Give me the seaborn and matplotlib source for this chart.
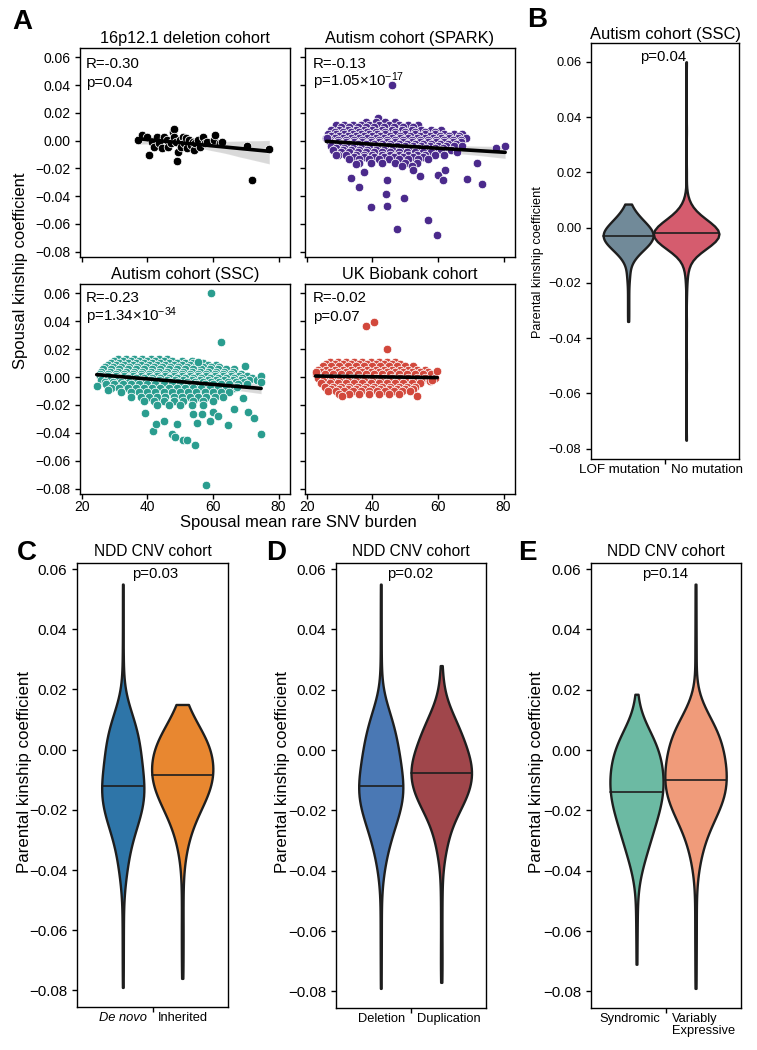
import numpy as np
import pandas as pd
import matplotlib
matplotlib.use("Agg")
import matplotlib.pyplot as plt
import seaborn as sns

# ======================= DATA =======================
# Panel A: spousal mean rare SNV burden (x) vs spousal kinship coefficient (y)
p16_x = [37.1, 38.3, 39.8, 40.6, 41.4, 42.1, 42.9, 43.7, 44.4, 45.1, 45.9, 46.4, 47.2, 47.8,
         48.0, 48.2, 48.8, 49.0, 49.5, 50.0, 50.4, 50.8, 51.2, 51.8, 52.2, 52.8, 53.2, 53.9,
         54.1, 54.6, 55.6, 56.1, 57.1, 57.6, 58.3, 60.2, 60.7, 62.2, 62.7, 70.5, 72.0, 77.2]
p16_y = [0.0005, 0.0041, 0.0029, -0.0103, -0.0007, -0.0043, 0.0024, -0.0019, -0.0055, 0.0029,
         0.0005, -0.0043, -0.0019, 0.0065, 0.0082, 0.0029, -0.0007, -0.0146, -0.0079, 0.0005,
         -0.0043, 0.0029, -0.0019, 0.0017, -0.0055, 0.0005, -0.0031, -0.0007, -0.0067, -0.0019,
         0.0005, -0.0043, 0.0029, -0.0019, -0.0007, 0.0005, 0.0041, -0.0019, -0.0007, -0.0038,
         -0.0282, -0.0062]

# dense clouds given as (kinship value, [burden values]) rows
spark_rows = [
    (0.016, [41.8]),
    (0.0135, [38, 41, 44, 47]),
    (0.011, [29, 31.5, 34, 36.5, 39, 42, 45, 48, 51, 54]),
    (0.0095, [30.5, 33, 35.5, 38, 40.5, 43.5, 46.5, 49.5, 52.5]),
    (0.008, [27.5, 30, 32.5, 35, 37.5, 40, 43, 46, 49, 52, 55, 58, 61]),
    (0.0065, [28.5, 31, 33.5, 36, 38.5, 41, 44, 47, 50, 53, 56, 59]),
    (0.005, [26.5, 29, 31.5, 34, 36.5, 39, 41.5, 44, 47, 50, 53, 56, 59, 62, 65, 67.5]),
    (0.0035, [27.5, 30, 32.5, 35, 37.5, 40, 42.5, 45.5, 48.5, 51.5, 54.5, 57.5, 60.5, 63.5, 66.5]),
    (0.002, [26, 28.5, 31, 33.5, 36, 38.5, 41, 43.5, 46, 48.5, 51, 53.5, 56, 58.5, 61, 63.5, 66, 68.5]),
    (0.0005, [27, 29.5, 32, 34.5, 37, 39.5, 42, 44.5, 47, 49.5, 52, 54.5, 57, 59.5, 62, 64.5, 67]),
    (-0.001, [27, 29.5, 32, 34.5, 37, 39.5, 42, 44.5, 47, 49.5, 52, 54.5, 57, 59.5, 62, 64.5, 67]),
    (-0.0025, [28, 30.5, 33, 35.5, 38, 40.5, 43, 45.5, 48, 50.5, 53, 55.5, 58, 60.5, 63, 65.5]),
    (-0.004, [27.5, 30, 32.5, 35, 37.5, 40, 42.5, 45, 47.5, 50, 52.5, 55, 57.5, 60, 62.5, 65, 67.5]),
    (-0.0055, [29, 31.5, 34, 36.5, 39, 41.5, 44, 46.5, 49, 51.5, 54, 56.5, 59, 61.5]),
    (-0.007, [28, 31, 33.5, 36, 38.5, 41, 43.5, 46, 48.5, 51, 53.5, 56, 58.5, 61, 64]),
    (-0.0085, [30.5, 33, 35.5, 38, 40.5, 43, 45.5, 48, 50.5, 53, 55.5, 58]),
    (-0.010, [29.5, 32, 35, 37.5, 40, 43, 45.5, 48, 51, 53.5, 56, 59, 62]),
    (-0.0115, [34.5, 37.5, 40.5, 43.5, 46.5, 49.5, 52.5, 55.5]),
    (-0.013, [33, 36, 39, 42, 45, 48, 51, 54, 57]),
    (-0.016, [36, 39.5, 43, 47, 50, 53.5]),
    (-0.0185, [49, 52]),
]
spark_out_x = [46.1, 33.4, 36.0, 37.5, 35.0, 39.5, 44.1, 44.6, 44.4, 49.7, 47.5, 57.1, 59.6,
               52.5, 54.6, 60.1, 62.2, 61.7, 68.8, 71.8, 73.4, 65.7, 77.7, 80.5, 29.0, 26.1]
spark_out_y = [0.040, -0.0270, -0.0335, -0.0225, -0.0172, -0.0478, -0.0383, -0.0287, -0.0474,
               -0.0414, -0.0637, -0.0575, -0.0677, -0.0210, -0.0258, -0.0246, -0.0210, -0.0282,
               -0.0275, -0.0163, -0.0313, -0.0079, -0.0055, -0.0036, -0.0103, 0.0017]

ssc_rows = [
    (0.013, [31, 33.5, 36, 38.5, 41, 43.5, 46]),
    (0.0115, [30, 32.5, 35, 37.5, 40, 42.5, 45, 47.5, 50.5, 53.5]),
    (0.010, [29, 31.5, 34, 36.5, 39, 41.5, 44, 46.5, 49, 51.5, 54, 57]),
    (0.0085, [28, 30.5, 33, 35.5, 38, 40.5, 43, 45.5, 48, 50.5, 53, 55.5, 58.5, 61]),
    (0.007, [27, 29.5, 32, 34.5, 37, 39.5, 42, 44.5, 47, 49.5, 52, 54.5, 57, 59.5, 62]),
    (0.0055, [26.5, 29, 31.5, 34, 36.5, 39, 41.5, 44, 46.5, 49, 51.5, 54, 56.5, 59, 61.5, 64, 66.5]),
    (0.004, [26, 28.5, 31, 33.5, 36, 38.5, 41, 43.5, 46, 48.5, 51, 53.5, 56, 58.5, 61, 63.5, 66]),
    (0.0025, [25.5, 28, 30.5, 33, 35.5, 38, 40.5, 43, 45.5, 48, 50.5, 53, 55.5, 58, 60.5, 63, 65.5, 68.5]),
    (0.001, [25.5, 28, 30.5, 33, 35.5, 38, 40.5, 43, 45.5, 48, 50.5, 53, 55.5, 58, 60.5, 63, 65.5, 68, 70.5]),
    (-0.0005, [26.5, 29, 31.5, 34, 36.5, 39, 41.5, 44, 46.5, 49, 51.5, 54, 56.5, 59, 61.5, 64, 66.5, 69, 72]),
    (-0.002, [26, 28.5, 31, 33.5, 36, 38.5, 41, 43.5, 46, 48.5, 51, 53.5, 56, 58.5, 61, 63.5, 66, 68.5, 71, 73.5]),
    (-0.0035, [27, 29.5, 32, 34.5, 37, 39.5, 42, 44.5, 47, 49.5, 52, 54.5, 57, 59.5, 62, 64.5, 67, 69.5]),
    (-0.005, [27.5, 30, 32.5, 35, 37.5, 40, 42.5, 45, 47.5, 50, 52.5, 55, 57.5, 60, 62.5, 65, 67.5, 70.5]),
    (-0.008, [29, 31.5, 34, 36.5, 39, 41.5, 44, 46.5, 49, 51.5, 54, 56.5, 59, 61.5, 64, 66.5]),
    (-0.011, [32, 35, 37.5, 40, 42.5, 45, 47.5, 50, 52.5, 55, 57.5, 60, 62.5, 65]),
    (-0.014, [35, 38, 40.5, 43, 45.5, 48, 50.5, 53, 55.5, 58, 60.5, 63]),
    (-0.017, [39, 42, 45, 48, 51, 54, 57, 60]),
    (-0.020, [43, 46.5, 50, 53.5, 57]),
]
ssc_out_x = [59.3, 62.4, 24.6, 28.1, 39.3, 41.8, 42.8, 45.2, 47.5, 48.5, 49.0, 50.8, 52.0, 54.6,
             55.1, 53.9, 56.6, 59.2, 60.0, 61.7, 64.6, 66.3, 70.6, 72.4, 74.7, 57.9, 69.7, 55.6,
             74.7, 74.7, 67.3, 69.3]
ssc_out_y = [0.060, 0.0250, -0.0062, -0.0096, -0.0259, -0.0388, -0.0335, -0.0317, -0.0412,
             -0.0431, -0.0340, -0.0450, -0.0450, -0.0484, -0.0331, -0.0266, -0.0266, -0.0314,
             -0.0252, -0.0276, -0.0347, -0.0228, -0.0247, -0.0293, -0.0412, -0.0772, 0.0077,
             0.0111, 0.0005, -0.0036, -0.0072, -0.0151]

ukb_rows = [
    (0.011, [27, 29.5, 32, 34.5, 37, 39.5, 42, 44.5, 47]),
    (0.0095, [26, 28.5, 31, 33.5, 36, 38.5, 41, 43.5, 46, 48.5]),
    (0.008, [25, 27.5, 30, 32.5, 35, 37.5, 40, 42.5, 45, 47.5, 50, 52.5]),
    (0.005, [23.5, 26, 28.5, 31, 33.5, 36, 38.5, 41, 43.5, 46, 48.5, 51, 53.5, 56]),
    (0.0035, [24.5, 27, 29.5, 32, 34.5, 37, 39.5, 42, 44.5, 47, 49.5, 52, 54.5, 57]),
    (0.002, [23, 25.5, 28, 30.5, 33, 35.5, 38, 40.5, 43, 45.5, 48, 50.5, 53, 55.5, 58]),
    (-0.001, [23.5, 26, 28.5, 31, 33.5, 36, 38.5, 41, 43.5, 46, 48.5, 51, 53.5, 56, 59]),
    (-0.0025, [25, 27.5, 30, 32.5, 35, 37.5, 40, 42.5, 45, 47.5, 50, 52.5, 55, 57.5]),
    (-0.004, [24.5, 27, 29.5, 32, 34.5, 37, 39.5, 42, 44.5, 47, 49.5, 52, 54.5]),
    (-0.007, [25.5, 28, 30.5, 33, 35.5, 38, 40.5, 43, 45.5, 48, 50.5, 53]),
    (-0.0085, [27.5, 30, 32.5, 35, 37.5, 40, 42.5, 45, 47.5, 50, 52.5]),
    (-0.010, [26.5, 29, 31.5, 34, 36.5, 39, 41.5, 44, 46.5, 49, 51.5]),
    (-0.012, [30, 33, 36, 39, 42, 45, 48]),
]
ukb_out_x = [38.1, 40.5, 44.6, 59.8, 58.3, 53.7, 30.7, 22.7]
ukb_out_y = [0.0367, 0.0398, 0.0204, 0.0043, -0.0019, -0.0139, -0.0139, 0.0036]

a_titles = ["16p12.1 deletion cohort", "Autism cohort (SPARK)", "Autism cohort (SSC)", "UK Biobank cohort"]
a_R = ["R=-0.30", "R=-0.13", "R=-0.23", "R=-0.02"]
a_p = ["p=0.04", "p=1.05×10$^{-17}$", "p=1.34×10$^{-34}$", "p=0.07"]
a_colors = ["#000000", "#4b2a8c", "#2a9d8f", "#d2483c"]

# Panel B: parental kinship, binned values and counts
b_groups = ["LOF mutation", "No mutation"]
lof_vals = [-0.034, -0.030, -0.026, -0.022, -0.018, -0.015, -0.012, -0.010, -0.008, -0.006,
            -0.004, -0.002, 0.000, 0.002, 0.004, 0.006, 0.0085]
lof_counts = [1, 1, 1, 1, 2, 2, 4, 7, 12, 18, 21, 22, 18, 13, 9, 5, 3]
nomut_vals = [-0.077, -0.050, -0.035, -0.025, -0.020, -0.016, -0.013, -0.010, -0.008, -0.006,
              -0.004, -0.002, 0.000, 0.002, 0.004, 0.006, 0.008, 0.010, 0.013, 0.020, 0.035, 0.060]
nomut_counts = [1, 1, 1, 1, 2, 3, 6, 12, 22, 35, 45, 48, 42, 30, 18, 10, 5, 3, 1, 1, 1, 1]
b_colors = ["#718a99", "#d55c6e"]

# Panel C
c_groups = ["De novo", "Inherited"]
denovo_vals = [0.055, 0.045, 0.035, 0.028, 0.022, 0.018, 0.015, 0.012, 0.009, 0.006, 0.003,
               0.000, -0.003, -0.006, -0.009, -0.012, -0.015, -0.018, -0.021, -0.024, -0.027,
               -0.030, -0.033, -0.036, -0.039, -0.042, -0.045, -0.050, -0.055, -0.060, -0.066,
               -0.072, -0.079]
denovo_counts = [1, 1, 1, 1, 1, 2, 4, 8, 12, 13, 15, 16, 16, 17, 18, 20, 20, 19, 17, 14, 11, 8,
                 6, 5, 4, 3, 2, 1, 1, 1, 1, 1, 1]
inh_vals = [0.015, 0.0125, 0.0095, 0.0065, 0.0035, 0.0005, -0.0025, -0.0055, -0.0085, -0.0115,
            -0.0145, -0.0175, -0.0205, -0.0235, -0.0265, -0.0295, -0.0325, -0.0355, -0.0385,
            -0.042, -0.047, -0.053, -0.059, -0.064, -0.070, -0.076]
inh_counts = [3, 5, 8, 12, 16, 18, 19, 20, 20, 19, 17, 14, 11, 8, 6, 4, 3, 2, 1, 1, 1, 1, 1, 1, 1, 1]
c_colors = ["#2e75a8", "#e88730"]

# Panel D
d_groups = ["Deletion", "Duplication"]
del_vals = [0.055, 0.046, 0.038, 0.030, 0.024, 0.018, 0.015, 0.012, 0.009, 0.006, 0.003, 0.000,
            -0.003, -0.006, -0.009, -0.012, -0.015, -0.018, -0.021, -0.024, -0.027, -0.030,
            -0.033, -0.036, -0.039, -0.042, -0.046, -0.052, -0.058, -0.064, -0.071, -0.079]
del_counts = [1, 1, 1, 1, 1, 2, 5, 8, 11, 12, 14, 15, 16, 17, 18, 20, 20, 18, 16, 13, 10, 8, 6,
              4, 3, 2, 1, 1, 1, 1, 1, 1]
dup_vals = [-0.077, -0.071, -0.065, -0.058, -0.051, -0.045, -0.040, -0.036, -0.033, -0.030,
            -0.027, -0.024, -0.021, -0.018, -0.015, -0.012, -0.009, -0.006, -0.003, 0.000,
            0.003, 0.006, 0.009, 0.012, 0.015, 0.018, 0.021, 0.024, 0.028]
dup_counts = [1, 1, 1, 1, 1, 1, 1, 2, 3, 4, 5, 7, 10, 14, 17, 19, 20, 20, 19, 16, 14, 13, 10, 7,
              4, 2, 1, 1, 1]
d_colors = ["#4a78b4", "#a0464b"]

# Panel E
e_groups = ["Syndromic", "Variably\nExpressive"]
syn_vals = [0.0185, 0.016, 0.013, 0.010, 0.007, 0.004, 0.001, -0.002, -0.005, -0.008, -0.011,
            -0.014, -0.017, -0.020, -0.023, -0.026, -0.029, -0.032, -0.035, -0.038, -0.041,
            -0.044, -0.048, -0.052, -0.057, -0.063, -0.071]
syn_counts = [1, 1, 2, 5, 9, 13, 16, 18, 19, 20, 20, 20, 19, 17, 15, 13, 11, 9, 7, 5, 3, 2, 1,
              1, 1, 1, 1]
var_vals = [0.055, 0.045, 0.036, 0.029, 0.020, 0.017, 0.014, 0.011, 0.008, 0.005, 0.002, -0.001,
            -0.004, -0.007, -0.010, -0.013, -0.016, -0.019, -0.022, -0.025, -0.028, -0.031,
            -0.034, -0.037, -0.041, -0.046, -0.052, -0.058, -0.064, -0.071, -0.079]
var_counts = [1, 1, 1, 1, 1, 2, 5, 9, 13, 16, 17, 18, 19, 20, 20, 20, 19, 16, 13, 10, 7, 5, 4, 3,
              2, 1, 1, 1, 1, 1, 1]
e_colors = ["#6cbaa3", "#f09b7a"]

kin_ticks = [-0.08, -0.06, -0.04, -0.02, 0.00, 0.02, 0.04, 0.06]
burden_ticks = [20, 40, 60, 80]

# ======================= STYLE =======================
sns.set_style("ticks")
plt.rcParams.update({
    "font.family": ["Liberation Sans", "DejaVu Sans"],
    "mathtext.fontset": "custom",
    "mathtext.rm": "Liberation Sans",
    "mathtext.it": "Liberation Sans:italic",
    "mathtext.bf": "Liberation Sans:bold",
    "axes.edgecolor": "black",
    "axes.linewidth": 1.0,
    "xtick.color": "black",
    "ytick.color": "black",
    "text.color": "black",
    "axes.labelcolor": "black",
})

W, H = 757, 1050
fig = plt.figure(figsize=(W / 100, H / 100), dpi=100)


def box(l, t, r, b):
    return fig.add_axes([l / W, 1 - b / H, (r - l) / W, (b - t) / H])


def ftext(x, y, s, **kw):
    fig.text(x / W, 1 - y / H, s, **kw)


def rows_xy(rows, ox, oy):
    xs, ys = [], []
    for yv, xl in rows:
        xs += list(xl)
        ys += [yv] * len(xl)
    return np.array(xs + list(ox)), np.array(ys + list(oy))


# ======================= PANEL A =======================
a_data = [
    (np.array(p16_x), np.array(p16_y)),
    rows_xy(spark_rows, spark_out_x, spark_out_y),
    rows_xy(ssc_rows, ssc_out_x, ssc_out_y),
    rows_xy(ukb_rows, ukb_out_x, ukb_out_y),
]
a_boxes = [(80, 48, 290, 257), (305, 48, 515, 257), (80, 284, 290, 494), (305, 284, 515, 494)]
a_text_pos = [(86, 67.5, 86.5), (313, 67.5, 86.5), (86, 301.5, 320.5), (313, 301.5, 320.5)]

for i, ((x, y), bx) in enumerate(zip(a_data, a_boxes)):
    ax = box(*bx)
    sns.scatterplot(x=x, y=y, ax=ax, color=a_colors[i], s=38, edgecolor="white",
                    linewidth=0.55, zorder=2, legend=False)
    sns.regplot(x=x, y=y, ax=ax, scatter=False, color="black", ci=95, n_boot=1000, seed=0,
                truncate=True, line_kws=dict(lw=2.6, zorder=4))
    ax.set_xlim(19.5, 83.5)
    ax.set_ylim(-0.0839, 0.0668)
    ax.set_xticks(burden_ticks)
    ax.set_yticks(kin_ticks)
    ax.set_xlabel("")
    ax.set_ylabel("")
    ax.tick_params(labelsize=10, length=3.5, width=1, direction="out")
    ax.tick_params(axis="x", pad=0.5)
    if i < 2:
        ax.tick_params(labelbottom=False)
    if i % 2 == 1:
        ax.tick_params(labelleft=False)
    ax.set_title(a_titles[i], fontsize=11.7, pad=3.5)
    tx, ty1, ty2 = a_text_pos[i]
    ftext(tx, ty1, a_R[i], fontsize=10.8, va="baseline", ha="left")
    ftext(tx, ty2, a_p[i], fontsize=10.8, va="baseline", ha="left")

ftext(21, 271, "Spousal kinship coefficient", fontsize=12, rotation=90, ha="center", va="center")
ftext(298, 522, "Spousal mean rare SNV burden", fontsize=12, ha="center", va="center")


# ======================= VIOLIN PANELS =======================
def violin_panel(bx, names, vals, cnts, colors, widths, xlim, ylim, tick_fs, lab_fs,
                 left_style="normal"):
    ax = box(*bx)
    for n, v, c, col, w in zip(names, vals, cnts, colors, widths):
        df = pd.DataFrame({"group": n, "value": np.repeat(v, c)})
        sns.violinplot(data=df, x="group", y="value", order=names, color=col,
                       saturation=1, cut=0, inner="quart", width=w,
                       linewidth=1.7, linecolor="#1e1e1e", density_norm="width",
                       ax=ax, inner_kws=dict(linewidth=1.2, color="#1e1e1e"))
    for k, ln in enumerate(ax.lines):
        if k % 3 == 1:
            ln.set_linestyle("-")
        else:
            ln.set_visible(False)
    ax.set_xlim(*xlim)
    ax.set_ylim(*ylim)
    ax.set_xticks([(xlim[0] + xlim[1]) / 2])
    ax.set_xticklabels([""])
    ax.set_yticks(kin_ticks)
    ax.set_yticklabels([f"{t:.2f}".replace("-", "\u2212") for t in kin_ticks])
    ax.set_xlabel("")
    ax.set_ylabel("")
    ax.tick_params(labelsize=tick_fs, length=3.5, width=1, direction="out")
    ax.annotate(names[0], xy=(0.5, 0), xycoords="axes fraction", xytext=(-4, -3.5),
                textcoords="offset points", ha="right", va="top", fontsize=lab_fs,
                style=left_style)
    ax.annotate(names[1], xy=(0.5, 0), xycoords="axes fraction", xytext=(4, -3.5),
                textcoords="offset points", ha="left", va="top", fontsize=lab_fs,
                linespacing=1.05)
    return ax


# Panel B
axB = violin_panel((591, 43, 739, 459), b_groups, [lof_vals, nomut_vals],
                   [lof_counts, nomut_counts], b_colors, (0.86, 1.13), (-0.64, 1.91),
                   (-0.0838, 0.0668), 9.3, 9.6)
axB.set_title("Autism cohort (SSC)", fontsize=11.9, pad=3)
ftext(663, 57, "p=0.04", fontsize=10.7, ha="center", va="center")
ftext(538, 262, "Parental kinship coefficient", fontsize=9.2, rotation=90, ha="center", va="center")

# Panels C, D, E
cde = [
    ((77, 563, 228, 1007), c_groups, [denovo_vals, inh_vals], [denovo_counts, inh_counts],
     c_colors, (0.71, 1.03), (-0.77, 1.77), "italic", "p=0.03", 155, 25),
    ((336, 563, 486, 1008), d_groups, [del_vals, dup_vals], [del_counts, dup_counts],
     d_colors, (0.73, 1.0), (-0.74, 1.74), "normal", "p=0.02", 410, 283),
    ((591, 563, 741, 1008), e_groups, [syn_vals, var_vals], [syn_counts, var_counts],
     e_colors, (0.9, 1.04), (-0.77, 1.77), "normal", "p=0.14", 665, 537),
]
for bx, names, vals, cnts, cols, wd, xl, lstyle, ptxt, px, ylx in cde:
    ax = violin_panel(bx, names, vals, cnts, cols, wd, xl, (-0.0855, 0.062), 10.8, 9.3,
                      left_style=lstyle)
    ax.set_title("NDD CNV cohort", fontsize=11.2, pad=5)
    ftext(px, 574, ptxt, fontsize=10.7, ha="center", va="center")
    ftext(ylx, 772, "Parental kinship coefficient", fontsize=12.2, rotation=90,
          ha="center", va="center")

# Panel letters
for lab, (x, y) in zip("ABCDE", [(22, 22), (537, 20), (27, 553), (276, 553), (527, 553)]):
    ftext(x, y, lab, fontsize=20, fontweight="bold", ha="center", va="center")

fig.savefig("out.png", dpi=100)
